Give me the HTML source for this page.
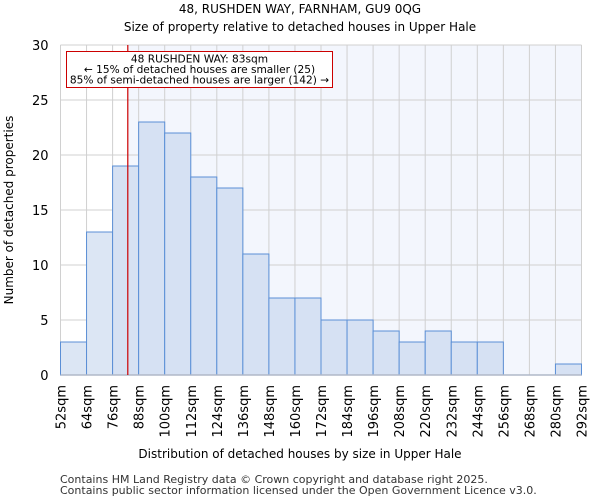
<!DOCTYPE html>
<html><head><meta charset="utf-8"><style>
body{margin:0;background:#fff;font-family:"DejaVu Sans","Liberation Sans",sans-serif;}
</style></head><body>
<svg width="600" height="500" xmlns="http://www.w3.org/2000/svg" font-family="DejaVu Sans, Liberation Sans, sans-serif">
<text x="300" y="13" text-anchor="middle" font-size="12">48, RUSHDEN WAY, FARNHAM, GU9 0QG</text>
<text x="300" y="31" text-anchor="middle" font-size="12">Size of property relative to detached houses in Upper Hale</text>
<g id="plot"></g>
<text x="300" y="458" text-anchor="middle" font-size="12">Distribution of detached houses by size in Upper Hale</text>
<text transform="translate(13,210) rotate(-90)" text-anchor="middle" font-size="12">Number of detached properties</text>
<text x="60" y="483" font-size="11" fill="#333">Contains HM Land Registry data © Crown copyright and database right 2025.</text>
<text x="60" y="494" font-size="11" fill="#333">Contains public sector information licensed under the Open Government Licence v3.0.</text>
</svg>
<script>
const binStarts=[52,64,76,88,100,112,124,136,148,160,172,184,196,208,220,232,244,256,268,280];
const counts=[3,13,19,23,22,18,17,11,7,7,5,5,4,3,4,3,3,0,0,1];
const xTickLabels=[52,64,76,88,100,112,124,136,148,160,172,184,196,208,220,232,244,256,268,280,292];
const yTicks=[0,5,10,15,20,25,30];
const propertySize=83;
const NS="http://www.w3.org/2000/svg";
const L=60.5,R=581.5,T=45,B=375,xMin=52,xMax=292,yMax=30;
const xs=v=>L+(v-xMin)/(xMax-xMin)*(R-L);
const ys=v=>B-v/yMax*(B-T);
const g=document.getElementById('plot');
function mk(t,a,p){const e=document.createElementNS(NS,t);for(const k in a)e.setAttribute(k,a[k]);(p||g).appendChild(e);return e;}
const bgW=mk('rect',{x:L,y:T,width:xs(propertySize)-L,height:B-T,fill:'#ffffff'});


const bgB=mk('rect',{x:xs(propertySize),y:T,width:R-xs(propertySize),height:B-T,fill:'#f3f6fd'});


xTickLabels.forEach(v=>{const l=mk('line',{x1:xs(v),x2:xs(v),y1:T,y2:B,stroke:'#d0d0d0','stroke-width':1});

});
yTicks.forEach(v=>{const l=mk('line',{x1:L,x2:R,y1:ys(v),y2:ys(v),stroke:'#d0d0d0','stroke-width':1});


const t=mk('text',{x:L-12,y:ys(v)+5,'text-anchor':'end','font-size':13});t.textContent=v;

});
binStarts.forEach((s,i)=>{if(counts[i]<=0)return;const x0=xs(s),x1=xs(s+12);
const r=mk('rect',{x:x0,y:ys(counts[i]),width:x1-x0,height:B-ys(counts[i]),fill:s+12<=propertySize?'#dce6f4':'#d6e1f3',stroke:'#5b8fd6','stroke-width':1});

});
const ax=mk('line',{x1:L,x2:R,y1:B,y2:B,stroke:'#b0b8c8','stroke-width':1.5});


xTickLabels.forEach(v=>{const t=mk('text',{transform:`translate(${xs(v)+5},385) rotate(-90)`,'text-anchor':'end','font-size':13});t.textContent=v+'sqm';

});
const rl=mk('line',{x1:xs(propertySize),x2:xs(propertySize),y1:T,y2:B,stroke:'#cc0000','stroke-width':1.2});


const box=mk('rect',{x:66.5,y:51.5,width:266,height:36,fill:'#fff',stroke:'#cc0000','stroke-width':1});


['48 RUSHDEN WAY: 83sqm','← 15% of detached houses are smaller (25)','85% of semi-detached houses are larger (142) →'].forEach((s,i)=>{
const t=mk('text',{x:199.5,y:62.5+i*10.5,'text-anchor':'middle','font-size':10.6});t.textContent=s;

});
</script>
</body></html>
